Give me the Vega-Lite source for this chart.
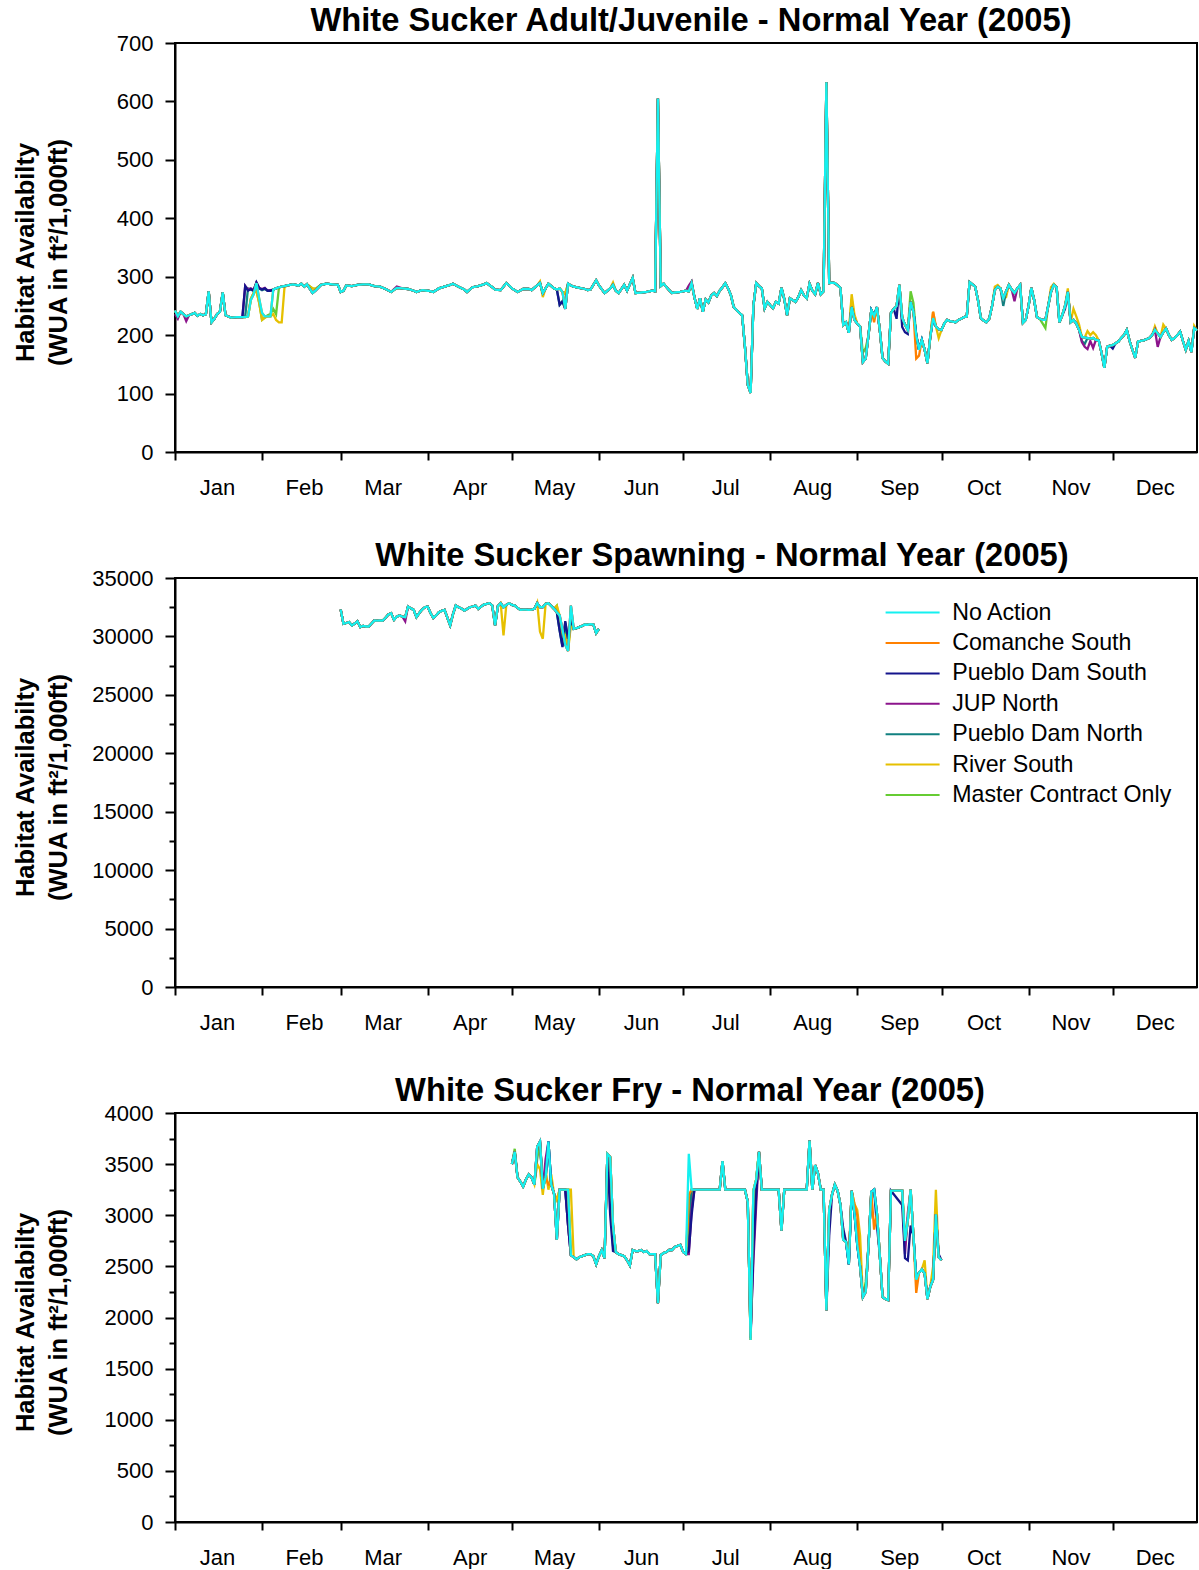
{
"$schema": "https://vega.github.io/schema/vega-lite/v6.json",
"padding": {"left": 11, "top": 4, "right": 0, "bottom": 0},
"spacing": 40,
"config": {
  "font": "Liberation Sans",
  "view": {"stroke": "black", "strokeWidth": 2},
  "axis": {"domainColor": "black", "domainWidth": 2, "tickColor": "black", "tickWidth": 2, "labelColor": "black", "labelFontSize": 22, "labelFont": "Liberation Sans", "titleColor": "black", "grid": false},
  "title": {"fontSize": 32.7, "fontWeight": "bold", "color": "black", "anchor": "middle", "frame": "group", "offset": -6, "baseline": "alphabetic"}
},
"datasets": {
"adult": [
{"t":"2005-01-01","a":242,"b":242,"c":242,"d":236,"e":242,"f":242,"g":242},
{"t":"2005-01-02","a":232,"b":232,"c":232,"d":228,"e":232,"f":232,"g":232},
{"t":"2005-01-03","a":240,"b":240,"c":240,"d":240,"e":240,"f":240,"g":240},
{"t":"2005-01-04","a":236,"b":236,"c":236,"d":236,"e":236,"f":236,"g":236},
{"t":"2005-01-05","a":232,"b":232,"c":232,"d":224,"e":232,"f":232,"g":232},
{"t":"2005-01-06","a":234,"b":234,"c":234,"d":234,"e":234,"f":234,"g":234},
{"t":"2005-01-07","a":236,"b":236,"c":236,"d":236,"e":236,"f":236,"g":236},
{"t":"2005-01-08","a":238,"b":238,"c":238,"d":238,"e":238,"f":238,"g":238},
{"t":"2005-01-09","a":233,"b":233,"c":233,"d":233,"e":233,"f":233,"g":233},
{"t":"2005-01-10","a":236,"b":236,"c":236,"d":236,"e":236,"f":236,"g":236},
{"t":"2005-01-11","a":234,"b":234,"c":234,"d":234,"e":234,"f":234,"g":234},
{"t":"2005-01-12","a":236,"b":236,"c":236,"d":236,"e":236,"f":236,"g":236},
{"t":"2005-01-13","a":275,"b":275,"c":275,"d":275,"e":275,"f":275,"g":275},
{"t":"2005-01-14","a":222,"b":222,"c":222,"d":222,"e":222,"f":222,"g":222},
{"t":"2005-01-15","a":228,"b":228,"c":228,"d":228,"e":228,"f":228,"g":228},
{"t":"2005-01-16","a":236,"b":236,"c":236,"d":236,"e":236,"f":236,"g":236},
{"t":"2005-01-17","a":240,"b":240,"c":240,"d":240,"e":240,"f":240,"g":240},
{"t":"2005-01-18","a":273,"b":273,"c":273,"d":273,"e":273,"f":273,"g":273},
{"t":"2005-01-19","a":234,"b":234,"c":234,"d":234,"e":234,"f":234,"g":234},
{"t":"2005-01-20","a":232,"b":232,"c":232,"d":232,"e":232,"f":232,"g":232},
{"t":"2005-01-21","a":230,"b":230,"c":230,"d":230,"e":230,"f":230,"g":230},
{"t":"2005-01-23","a":231,"b":231,"c":231,"d":231,"e":231,"f":231,"g":231},
{"t":"2005-01-25","a":231,"b":231,"c":231,"d":231,"e":231,"f":231,"g":231},
{"t":"2005-01-26","a":231,"b":231,"c":284,"d":284,"e":232,"f":231,"g":231},
{"t":"2005-01-27","a":232,"b":232,"c":276,"d":278,"e":280,"f":232,"g":232},
{"t":"2005-01-28","a":260,"b":260,"c":279,"d":280,"e":278,"f":262,"g":262},
{"t":"2005-01-29","a":270,"b":270,"c":276,"d":277,"e":276,"f":272,"g":272},
{"t":"2005-01-30","a":289,"b":289,"c":290,"d":290,"e":290,"f":276,"g":276},
{"t":"2005-01-31","a":262,"b":262,"c":280,"d":281,"e":280,"f":255,"g":255},
{"t":"2005-02-01","a":238,"b":238,"c":278,"d":279,"e":277,"f":226,"g":226},
{"t":"2005-02-02","a":232,"b":232,"c":280,"d":281,"e":279,"f":230,"g":230},
{"t":"2005-02-03","a":232,"b":232,"c":276,"d":276,"e":276,"f":232,"g":234},
{"t":"2005-02-04","a":232,"b":232,"c":276,"d":277,"e":276,"f":232,"g":236},
{"t":"2005-02-05","a":278,"b":278,"c":278,"d":278,"e":278,"f":236,"g":245},
{"t":"2005-02-06","a":280,"b":280,"c":280,"d":280,"e":280,"f":226,"g":236},
{"t":"2005-02-07","a":282,"b":282,"c":282,"d":282,"e":282,"f":222,"g":280},
{"t":"2005-02-08","a":283,"b":283,"c":283,"d":283,"e":283,"f":222,"g":284},
{"t":"2005-02-09","a":284,"b":284,"c":284,"d":284,"e":284,"f":282,"g":284},
{"t":"2005-02-10","a":285,"b":285,"c":285,"d":285,"e":285,"f":285,"g":285},
{"t":"2005-02-12","a":287,"b":287,"c":287,"d":287,"e":287,"f":287,"g":287},
{"t":"2005-02-14","a":285,"b":285,"c":285,"d":285,"e":285,"f":285,"g":285},
{"t":"2005-02-15","a":288,"b":288,"c":288,"d":288,"e":288,"f":288,"g":288},
{"t":"2005-02-16","a":283,"b":283,"c":283,"d":283,"e":283,"f":283,"g":283},
{"t":"2005-02-17","a":287,"b":287,"c":287,"d":287,"e":287,"f":287,"g":287},
{"t":"2005-02-19","a":272,"b":272,"c":272,"d":272,"e":272,"f":280,"g":280},
{"t":"2005-02-20","a":276,"b":276,"c":276,"d":276,"e":276,"f":279,"g":279},
{"t":"2005-02-22","a":286,"b":286,"c":286,"d":286,"e":286,"f":286,"g":286},
{"t":"2005-02-24","a":288,"b":288,"c":288,"d":288,"e":288,"f":288,"g":288},
{"t":"2005-02-26","a":287,"b":287,"c":287,"d":287,"e":287,"f":287,"g":287},
{"t":"2005-02-28","a":286,"b":286,"c":286,"d":286,"e":286,"f":286,"g":286},
{"t":"2005-03-01","a":274,"b":274,"c":274,"d":274,"e":274,"f":274,"g":274},
{"t":"2005-03-02","a":276,"b":276,"c":276,"d":276,"e":276,"f":276,"g":276},
{"t":"2005-03-03","a":285,"b":285,"c":285,"d":285,"e":285,"f":285,"g":285},
{"t":"2005-03-05","a":284,"b":284,"c":284,"d":284,"e":284,"f":284,"g":284},
{"t":"2005-03-07","a":286,"b":286,"c":286,"d":286,"e":286,"f":286,"g":286},
{"t":"2005-03-09","a":287,"b":287,"c":287,"d":287,"e":287,"f":287,"g":287},
{"t":"2005-03-11","a":287,"b":287,"c":287,"d":287,"e":287,"f":287,"g":287},
{"t":"2005-03-13","a":284,"b":284,"c":284,"d":284,"e":284,"f":284,"g":284},
{"t":"2005-03-15","a":283,"b":283,"c":283,"d":283,"e":283,"f":283,"g":283},
{"t":"2005-03-17","a":279,"b":279,"c":279,"d":279,"e":279,"f":279,"g":279},
{"t":"2005-03-19","a":274,"b":274,"c":274,"d":274,"e":274,"f":274,"g":274},
{"t":"2005-03-21","a":281,"b":281,"c":281,"d":283,"e":281,"f":281,"g":281},
{"t":"2005-03-23","a":280,"b":280,"c":280,"d":280,"e":280,"f":280,"g":280},
{"t":"2005-03-25","a":279,"b":279,"c":279,"d":279,"e":279,"f":279,"g":279},
{"t":"2005-03-27","a":276,"b":276,"c":276,"d":276,"e":276,"f":276,"g":276},
{"t":"2005-03-28","a":274,"b":274,"c":274,"d":274,"e":274,"f":274,"g":274},
{"t":"2005-03-30","a":277,"b":277,"c":277,"d":277,"e":277,"f":277,"g":277},
{"t":"2005-04-01","a":276,"b":276,"c":276,"d":276,"e":276,"f":276,"g":276},
{"t":"2005-04-03","a":274,"b":274,"c":274,"d":274,"e":274,"f":274,"g":274},
{"t":"2005-04-05","a":280,"b":280,"c":280,"d":280,"e":280,"f":280,"g":280},
{"t":"2005-04-07","a":283,"b":283,"c":283,"d":283,"e":283,"f":283,"g":283},
{"t":"2005-04-09","a":286,"b":286,"c":286,"d":286,"e":286,"f":286,"g":286},
{"t":"2005-04-10","a":288,"b":288,"c":288,"d":288,"e":288,"f":288,"g":288},
{"t":"2005-04-12","a":283,"b":283,"c":283,"d":283,"e":283,"f":283,"g":283},
{"t":"2005-04-14","a":278,"b":278,"c":278,"d":278,"e":278,"f":278,"g":278},
{"t":"2005-04-15","a":274,"b":274,"c":274,"d":274,"e":274,"f":274,"g":274},
{"t":"2005-04-17","a":282,"b":282,"c":282,"d":282,"e":282,"f":282,"g":282},
{"t":"2005-04-19","a":284,"b":284,"c":284,"d":284,"e":284,"f":284,"g":284},
{"t":"2005-04-21","a":287,"b":287,"c":287,"d":287,"e":287,"f":287,"g":287},
{"t":"2005-04-22","a":289,"b":289,"c":289,"d":289,"e":289,"f":289,"g":289},
{"t":"2005-04-24","a":282,"b":282,"c":282,"d":282,"e":282,"f":282,"g":282},
{"t":"2005-04-25","a":278,"b":278,"c":278,"d":278,"e":278,"f":278,"g":278},
{"t":"2005-04-27","a":277,"b":277,"c":277,"d":277,"e":277,"f":277,"g":277},
{"t":"2005-04-29","a":289,"b":289,"c":289,"d":289,"e":289,"f":289,"g":289},
{"t":"2005-04-30","a":285,"b":285,"c":285,"d":285,"e":285,"f":285,"g":285},
{"t":"2005-05-01","a":280,"b":280,"c":280,"d":280,"e":280,"f":280,"g":280},
{"t":"2005-05-03","a":274,"b":274,"c":274,"d":274,"e":274,"f":274,"g":274},
{"t":"2005-05-05","a":279,"b":279,"c":279,"d":279,"e":279,"f":279,"g":279},
{"t":"2005-05-07","a":279,"b":279,"c":279,"d":279,"e":279,"f":279,"g":279},
{"t":"2005-05-08","a":277,"b":277,"c":277,"d":277,"e":277,"f":277,"g":277},
{"t":"2005-05-10","a":285,"b":285,"c":285,"d":285,"e":285,"f":285,"g":285},
{"t":"2005-05-11","a":289,"b":289,"c":289,"d":289,"e":289,"f":292,"g":289},
{"t":"2005-05-12","a":272,"b":272,"c":272,"d":272,"e":272,"f":265,"g":272},
{"t":"2005-05-13","a":280,"b":280,"c":280,"d":280,"e":280,"f":280,"g":280},
{"t":"2005-05-14","a":288,"b":288,"c":288,"d":288,"e":288,"f":288,"g":288},
{"t":"2005-05-16","a":280,"b":280,"c":280,"d":280,"e":280,"f":280,"g":280},
{"t":"2005-05-17","a":278,"b":278,"c":278,"d":278,"e":278,"f":278,"g":278},
{"t":"2005-05-18","a":280,"b":280,"c":252,"d":280,"e":252,"f":280,"g":280},
{"t":"2005-05-19","a":274,"b":274,"c":258,"d":274,"e":258,"f":274,"g":274},
{"t":"2005-05-20","a":245,"b":245,"c":245,"d":245,"e":245,"f":270,"g":272},
{"t":"2005-05-21","a":288,"b":288,"c":288,"d":288,"e":288,"f":288,"g":288},
{"t":"2005-05-22","a":285,"b":285,"c":285,"d":285,"e":285,"f":285,"g":285},
{"t":"2005-05-23","a":283,"b":283,"c":283,"d":283,"e":283,"f":283,"g":283},
{"t":"2005-05-25","a":281,"b":281,"c":281,"d":281,"e":281,"f":281,"g":281},
{"t":"2005-05-27","a":279,"b":279,"c":279,"d":279,"e":279,"f":279,"g":279},
{"t":"2005-05-28","a":277,"b":277,"c":277,"d":277,"e":277,"f":277,"g":277},
{"t":"2005-05-29","a":278,"b":278,"c":278,"d":278,"e":278,"f":278,"g":278},
{"t":"2005-05-31","a":294,"b":294,"c":294,"d":294,"e":294,"f":294,"g":294},
{"t":"2005-06-01","a":285,"b":285,"c":285,"d":285,"e":285,"f":285,"g":285},
{"t":"2005-06-03","a":272,"b":272,"c":272,"d":272,"e":272,"f":272,"g":272},
{"t":"2005-06-05","a":280,"b":280,"c":280,"d":280,"e":280,"f":280,"g":280},
{"t":"2005-06-06","a":286,"b":286,"c":286,"d":286,"e":286,"f":290,"g":286},
{"t":"2005-06-07","a":276,"b":276,"c":276,"d":276,"e":276,"f":276,"g":276},
{"t":"2005-06-08","a":272,"b":272,"c":272,"d":272,"e":272,"f":272,"g":272},
{"t":"2005-06-10","a":286,"b":286,"c":286,"d":286,"e":286,"f":286,"g":286},
{"t":"2005-06-11","a":276,"b":276,"c":276,"d":276,"e":276,"f":276,"g":276},
{"t":"2005-06-13","a":298,"b":298,"c":298,"d":298,"e":298,"f":298,"g":298},
{"t":"2005-06-14","a":272,"b":272,"c":272,"d":272,"e":272,"f":272,"g":272},
{"t":"2005-06-16","a":273,"b":273,"c":273,"d":273,"e":273,"f":273,"g":273},
{"t":"2005-06-18","a":274,"b":274,"c":274,"d":274,"e":274,"f":274,"g":274},
{"t":"2005-06-20","a":276,"b":276,"c":276,"d":276,"e":276,"f":276,"g":276},
{"t":"2005-06-21","a":275,"b":275,"c":275,"d":275,"e":275,"f":275,"g":275},
{"t":"2005-06-22","a":605,"b":605,"c":605,"d":605,"e":605,"f":605,"g":605},
{"t":"2005-06-23","a":284,"b":284,"c":284,"d":284,"e":284,"f":284,"g":284},
{"t":"2005-06-24","a":288,"b":288,"c":288,"d":288,"e":288,"f":288,"g":288},
{"t":"2005-06-26","a":277,"b":277,"c":277,"d":277,"e":277,"f":277,"g":277},
{"t":"2005-06-27","a":272,"b":272,"c":272,"d":272,"e":272,"f":272,"g":272},
{"t":"2005-06-28","a":273,"b":273,"c":273,"d":273,"e":273,"f":273,"g":273},
{"t":"2005-06-30","a":274,"b":274,"c":274,"d":274,"e":274,"f":274,"g":274},
{"t":"2005-07-02","a":276,"b":276,"c":276,"d":276,"e":276,"f":276,"g":276},
{"t":"2005-07-03","a":275,"b":275,"c":275,"d":285,"e":275,"f":275,"g":275},
{"t":"2005-07-04","a":289,"b":289,"c":289,"d":292,"e":289,"f":289,"g":289},
{"t":"2005-07-05","a":265,"b":265,"c":265,"d":265,"e":265,"f":265,"g":265},
{"t":"2005-07-06","a":245,"b":245,"c":245,"d":245,"e":245,"f":245,"g":245},
{"t":"2005-07-07","a":263,"b":263,"c":263,"d":263,"e":263,"f":263,"g":263},
{"t":"2005-07-08","a":240,"b":240,"c":240,"d":240,"e":240,"f":240,"g":240},
{"t":"2005-07-09","a":261,"b":261,"c":261,"d":261,"e":261,"f":261,"g":261},
{"t":"2005-07-10","a":256,"b":256,"c":256,"d":256,"e":256,"f":256,"g":256},
{"t":"2005-07-11","a":268,"b":268,"c":268,"d":268,"e":268,"f":268,"g":268},
{"t":"2005-07-12","a":272,"b":272,"c":272,"d":272,"e":272,"f":272,"g":272},
{"t":"2005-07-13","a":267,"b":267,"c":267,"d":267,"e":267,"f":267,"g":267},
{"t":"2005-07-14","a":276,"b":276,"c":276,"d":276,"e":276,"f":276,"g":276},
{"t":"2005-07-15","a":282,"b":282,"c":282,"d":282,"e":282,"f":282,"g":282},
{"t":"2005-07-16","a":289,"b":289,"c":289,"d":289,"e":289,"f":289,"g":289},
{"t":"2005-07-17","a":280,"b":280,"c":280,"d":280,"e":280,"f":280,"g":280},
{"t":"2005-07-18","a":268,"b":268,"c":268,"d":268,"e":268,"f":268,"g":268},
{"t":"2005-07-19","a":248,"b":248,"c":248,"d":248,"e":248,"f":248,"g":248},
{"t":"2005-07-20","a":243,"b":243,"c":243,"d":243,"e":243,"f":243,"g":243},
{"t":"2005-07-21","a":238,"b":238,"c":238,"d":238,"e":238,"f":238,"g":238},
{"t":"2005-07-22","a":234,"b":234,"c":234,"d":234,"e":234,"f":234,"g":234},
{"t":"2005-07-23","a":180,"b":180,"c":180,"d":180,"e":180,"f":180,"g":180},
{"t":"2005-07-24","a":115,"b":115,"c":115,"d":115,"e":115,"f":115,"g":115},
{"t":"2005-07-25","a":101,"b":101,"c":101,"d":101,"e":101,"f":101,"g":101},
{"t":"2005-07-26","a":250,"b":250,"c":250,"d":250,"e":250,"f":250,"g":250},
{"t":"2005-07-27","a":289,"b":289,"c":289,"d":289,"e":289,"f":289,"g":289},
{"t":"2005-07-28","a":284,"b":284,"c":284,"d":284,"e":284,"f":284,"g":284},
{"t":"2005-07-29","a":280,"b":280,"c":280,"d":280,"e":280,"f":280,"g":280},
{"t":"2005-07-30","a":246,"b":246,"c":246,"d":246,"e":246,"f":246,"g":246},
{"t":"2005-07-31","a":257,"b":257,"c":257,"d":257,"e":257,"f":257,"g":257},
{"t":"2005-08-01","a":251,"b":251,"c":251,"d":251,"e":251,"f":251,"g":251},
{"t":"2005-08-02","a":246,"b":246,"c":246,"d":246,"e":246,"f":246,"g":246},
{"t":"2005-08-03","a":257,"b":257,"c":257,"d":257,"e":257,"f":257,"g":257},
{"t":"2005-08-04","a":254,"b":254,"c":254,"d":254,"e":254,"f":254,"g":254},
{"t":"2005-08-05","a":281,"b":281,"c":281,"d":281,"e":281,"f":281,"g":281},
{"t":"2005-08-06","a":262,"b":262,"c":262,"d":262,"e":262,"f":262,"g":262},
{"t":"2005-08-07","a":234,"b":234,"c":234,"d":234,"e":234,"f":234,"g":234},
{"t":"2005-08-08","a":263,"b":263,"c":263,"d":263,"e":263,"f":263,"g":263},
{"t":"2005-08-09","a":260,"b":260,"c":260,"d":260,"e":260,"f":260,"g":260},
{"t":"2005-08-10","a":257,"b":257,"c":257,"d":257,"e":257,"f":257,"g":257},
{"t":"2005-08-11","a":265,"b":265,"c":265,"d":265,"e":265,"f":265,"g":265},
{"t":"2005-08-12","a":277,"b":277,"c":277,"d":277,"e":277,"f":277,"g":277},
{"t":"2005-08-13","a":268,"b":268,"c":268,"d":268,"e":268,"f":268,"g":268},
{"t":"2005-08-14","a":263,"b":263,"c":263,"d":263,"e":263,"f":263,"g":263},
{"t":"2005-08-15","a":288,"b":288,"c":288,"d":288,"e":288,"f":288,"g":288},
{"t":"2005-08-16","a":276,"b":276,"c":276,"d":276,"e":276,"f":276,"g":276},
{"t":"2005-08-17","a":270,"b":270,"c":270,"d":270,"e":270,"f":270,"g":270},
{"t":"2005-08-18","a":289,"b":289,"c":289,"d":289,"e":289,"f":289,"g":289},
{"t":"2005-08-19","a":270,"b":270,"c":270,"d":270,"e":270,"f":270,"g":270},
{"t":"2005-08-20","a":275,"b":275,"c":275,"d":275,"e":275,"f":275,"g":275},
{"t":"2005-08-21","a":633,"b":633,"c":633,"d":633,"e":633,"f":633,"g":633},
{"t":"2005-08-22","a":289,"b":289,"c":289,"d":289,"e":289,"f":289,"g":289},
{"t":"2005-08-23","a":290,"b":290,"c":290,"d":290,"e":290,"f":290,"g":290},
{"t":"2005-08-24","a":289,"b":289,"c":289,"d":289,"e":289,"f":289,"g":289},
{"t":"2005-08-25","a":285,"b":285,"c":285,"d":285,"e":285,"f":285,"g":285},
{"t":"2005-08-26","a":281,"b":281,"c":281,"d":281,"e":281,"f":281,"g":281},
{"t":"2005-08-27","a":217,"b":217,"c":220,"d":217,"e":217,"f":217,"g":217},
{"t":"2005-08-28","a":222,"b":222,"c":222,"d":222,"e":222,"f":222,"g":222},
{"t":"2005-08-29","a":204,"b":204,"c":204,"d":204,"e":204,"f":204,"g":204},
{"t":"2005-08-30","a":248,"b":248,"c":248,"d":248,"e":248,"f":270,"g":262},
{"t":"2005-08-31","a":226,"b":226,"c":226,"d":226,"e":226,"f":235,"g":226},
{"t":"2005-09-01","a":220,"b":220,"c":220,"d":220,"e":220,"f":220,"g":220},
{"t":"2005-09-02","a":215,"b":215,"c":215,"d":215,"e":215,"f":215,"g":215},
{"t":"2005-09-03","a":154,"b":154,"c":154,"d":154,"e":154,"f":154,"g":170},
{"t":"2005-09-04","a":160,"b":160,"c":160,"d":160,"e":160,"f":160,"g":178},
{"t":"2005-09-05","a":200,"b":200,"c":200,"d":200,"e":200,"f":200,"g":200},
{"t":"2005-09-06","a":243,"b":243,"c":243,"d":243,"e":243,"f":243,"g":243},
{"t":"2005-09-07","a":233,"b":222,"c":233,"d":233,"e":233,"f":233,"g":233},
{"t":"2005-09-08","a":248,"b":248,"c":248,"d":248,"e":248,"f":248,"g":248},
{"t":"2005-09-09","a":210,"b":210,"c":210,"d":210,"e":210,"f":210,"g":210},
{"t":"2005-09-10","a":161,"b":161,"c":161,"d":161,"e":161,"f":161,"g":161},
{"t":"2005-09-11","a":155,"b":155,"c":155,"d":155,"e":155,"f":155,"g":155},
{"t":"2005-09-12","a":151,"b":151,"c":151,"d":151,"e":151,"f":151,"g":151},
{"t":"2005-09-13","a":238,"b":238,"c":238,"d":238,"e":238,"f":238,"g":238},
{"t":"2005-09-14","a":245,"b":245,"c":245,"d":245,"e":245,"f":245,"g":245},
{"t":"2005-09-15","a":250,"b":250,"c":228,"d":250,"e":250,"f":250,"g":250},
{"t":"2005-09-16","a":286,"b":286,"c":286,"d":286,"e":286,"f":286,"g":286},
{"t":"2005-09-17","a":230,"b":230,"c":214,"d":230,"e":230,"f":230,"g":230},
{"t":"2005-09-18","a":218,"b":218,"c":205,"d":218,"e":218,"f":218,"g":218},
{"t":"2005-09-19","a":209,"b":209,"c":202,"d":209,"e":209,"f":209,"g":209},
{"t":"2005-09-20","a":257,"b":257,"c":257,"d":257,"e":257,"f":257,"g":275},
{"t":"2005-09-21","a":240,"b":240,"c":240,"d":240,"e":240,"f":240,"g":255},
{"t":"2005-09-22","a":200,"b":160,"c":200,"d":200,"e":200,"f":200,"g":200},
{"t":"2005-09-23","a":175,"b":165,"c":175,"d":175,"e":175,"f":175,"g":175},
{"t":"2005-09-24","a":192,"b":192,"c":192,"d":192,"e":192,"f":192,"g":192},
{"t":"2005-09-25","a":175,"b":175,"c":175,"d":175,"e":175,"f":175,"g":175},
{"t":"2005-09-26","a":152,"b":152,"c":152,"d":152,"e":152,"f":152,"g":152},
{"t":"2005-09-27","a":197,"b":197,"c":197,"d":197,"e":197,"f":197,"g":197},
{"t":"2005-09-28","a":229,"b":240,"c":229,"d":229,"e":229,"f":240,"g":229},
{"t":"2005-09-29","a":215,"b":215,"c":215,"d":215,"e":215,"f":215,"g":215},
{"t":"2005-09-30","a":210,"b":210,"c":210,"d":210,"e":210,"f":195,"g":210},
{"t":"2005-10-01","a":209,"b":209,"c":209,"d":209,"e":209,"f":209,"g":209},
{"t":"2005-10-02","a":220,"b":220,"c":220,"d":220,"e":220,"f":220,"g":220},
{"t":"2005-10-03","a":226,"b":226,"c":226,"d":226,"e":226,"f":226,"g":226},
{"t":"2005-10-04","a":224,"b":224,"c":224,"d":224,"e":224,"f":224,"g":224},
{"t":"2005-10-05","a":223,"b":223,"c":223,"d":223,"e":223,"f":223,"g":223},
{"t":"2005-10-06","a":222,"b":222,"c":222,"d":222,"e":222,"f":222,"g":222},
{"t":"2005-10-07","a":226,"b":226,"c":226,"d":226,"e":226,"f":226,"g":226},
{"t":"2005-10-08","a":228,"b":228,"c":228,"d":228,"e":228,"f":228,"g":228},
{"t":"2005-10-09","a":231,"b":231,"c":231,"d":231,"e":231,"f":231,"g":231},
{"t":"2005-10-10","a":232,"b":232,"c":232,"d":232,"e":232,"f":232,"g":232},
{"t":"2005-10-11","a":291,"b":291,"c":291,"d":291,"e":291,"f":291,"g":291},
{"t":"2005-10-12","a":287,"b":287,"c":287,"d":287,"e":287,"f":287,"g":287},
{"t":"2005-10-13","a":283,"b":283,"c":283,"d":283,"e":283,"f":283,"g":283},
{"t":"2005-10-14","a":260,"b":260,"c":260,"d":260,"e":260,"f":260,"g":260},
{"t":"2005-10-15","a":229,"b":229,"c":229,"d":229,"e":229,"f":229,"g":229},
{"t":"2005-10-16","a":225,"b":225,"c":225,"d":225,"e":225,"f":225,"g":225},
{"t":"2005-10-17","a":222,"b":222,"c":222,"d":222,"e":222,"f":222,"g":222},
{"t":"2005-10-18","a":228,"b":228,"c":228,"d":228,"e":228,"f":228,"g":228},
{"t":"2005-10-19","a":250,"b":250,"c":250,"d":250,"e":250,"f":250,"g":250},
{"t":"2005-10-20","a":277,"b":277,"c":277,"d":277,"e":277,"f":283,"g":277},
{"t":"2005-10-21","a":283,"b":283,"c":283,"d":283,"e":283,"f":286,"g":283},
{"t":"2005-10-22","a":280,"b":280,"c":280,"d":280,"e":280,"f":280,"g":280},
{"t":"2005-10-23","a":263,"b":263,"c":263,"d":263,"e":250,"f":263,"g":263},
{"t":"2005-10-24","a":275,"b":275,"c":275,"d":275,"e":275,"f":265,"g":275},
{"t":"2005-10-25","a":286,"b":286,"c":286,"d":286,"e":286,"f":286,"g":286},
{"t":"2005-10-26","a":278,"b":278,"c":278,"d":278,"e":278,"f":278,"g":278},
{"t":"2005-10-27","a":272,"b":272,"c":272,"d":258,"e":272,"f":272,"g":272},
{"t":"2005-10-28","a":280,"b":280,"c":280,"d":280,"e":280,"f":280,"g":280},
{"t":"2005-10-29","a":286,"b":286,"c":286,"d":286,"e":286,"f":286,"g":286},
{"t":"2005-10-30","a":221,"b":221,"c":221,"d":221,"e":221,"f":221,"g":221},
{"t":"2005-10-31","a":226,"b":226,"c":226,"d":226,"e":226,"f":226,"g":226},
{"t":"2005-11-01","a":250,"b":250,"c":250,"d":250,"e":250,"f":250,"g":250},
{"t":"2005-11-02","a":281,"b":281,"c":281,"d":281,"e":281,"f":281,"g":281},
{"t":"2005-11-03","a":260,"b":260,"c":260,"d":260,"e":260,"f":260,"g":260},
{"t":"2005-11-04","a":231,"b":231,"c":231,"d":231,"e":231,"f":231,"g":231},
{"t":"2005-11-05","a":228,"b":228,"c":228,"d":228,"e":228,"f":228,"g":228},
{"t":"2005-11-06","a":226,"b":226,"c":226,"d":226,"e":226,"f":226,"g":220},
{"t":"2005-11-07","a":226,"b":226,"c":226,"d":226,"e":226,"f":226,"g":212},
{"t":"2005-11-08","a":250,"b":250,"c":250,"d":250,"e":250,"f":250,"g":250},
{"t":"2005-11-09","a":274,"b":274,"c":274,"d":274,"e":274,"f":282,"g":274},
{"t":"2005-11-10","a":286,"b":286,"c":286,"d":286,"e":286,"f":288,"g":286},
{"t":"2005-11-11","a":282,"b":282,"c":282,"d":282,"e":282,"f":282,"g":282},
{"t":"2005-11-12","a":222,"b":222,"c":222,"d":222,"e":222,"f":222,"g":222},
{"t":"2005-11-13","a":234,"b":234,"c":234,"d":234,"e":234,"f":234,"g":234},
{"t":"2005-11-14","a":250,"b":250,"c":245,"d":250,"e":250,"f":250,"g":250},
{"t":"2005-11-15","a":274,"b":274,"c":274,"d":274,"e":274,"f":280,"g":274},
{"t":"2005-11-16","a":222,"b":222,"c":222,"d":222,"e":222,"f":222,"g":222},
{"t":"2005-11-17","a":226,"b":226,"c":226,"d":226,"e":226,"f":245,"g":226},
{"t":"2005-11-18","a":220,"b":220,"c":220,"d":220,"e":220,"f":232,"g":220},
{"t":"2005-11-19","a":209,"b":209,"c":209,"d":209,"e":209,"f":218,"g":209},
{"t":"2005-11-20","a":197,"b":197,"c":197,"d":188,"e":190,"f":197,"g":197},
{"t":"2005-11-21","a":196,"b":196,"c":196,"d":180,"e":185,"f":196,"g":196},
{"t":"2005-11-22","a":195,"b":195,"c":195,"d":176,"e":195,"f":207,"g":195},
{"t":"2005-11-23","a":194,"b":194,"c":194,"d":190,"e":194,"f":200,"g":194},
{"t":"2005-11-24","a":195,"b":195,"c":195,"d":178,"e":195,"f":205,"g":195},
{"t":"2005-11-25","a":192,"b":192,"c":192,"d":192,"e":192,"f":200,"g":192},
{"t":"2005-11-26","a":191,"b":191,"c":191,"d":191,"e":191,"f":191,"g":191},
{"t":"2005-11-27","a":170,"b":170,"c":170,"d":170,"e":170,"f":170,"g":170},
{"t":"2005-11-28","a":144,"b":144,"c":144,"d":144,"e":144,"f":144,"g":144},
{"t":"2005-11-29","a":180,"b":180,"c":180,"d":180,"e":180,"f":180,"g":180},
{"t":"2005-11-30","a":182,"b":182,"c":182,"d":182,"e":182,"f":182,"g":182},
{"t":"2005-12-01","a":183,"b":183,"c":177,"d":183,"e":183,"f":183,"g":183},
{"t":"2005-12-02","a":186,"b":186,"c":186,"d":186,"e":186,"f":186,"g":186},
{"t":"2005-12-03","a":189,"b":189,"c":189,"d":189,"e":189,"f":189,"g":189},
{"t":"2005-12-04","a":195,"b":195,"c":195,"d":195,"e":195,"f":195,"g":195},
{"t":"2005-12-05","a":200,"b":200,"c":200,"d":200,"e":200,"f":200,"g":200},
{"t":"2005-12-06","a":209,"b":209,"c":209,"d":209,"e":209,"f":209,"g":209},
{"t":"2005-12-07","a":190,"b":190,"c":190,"d":190,"e":190,"f":190,"g":190},
{"t":"2005-12-08","a":175,"b":175,"c":175,"d":175,"e":175,"f":175,"g":175},
{"t":"2005-12-09","a":161,"b":161,"c":161,"d":161,"e":161,"f":161,"g":161},
{"t":"2005-12-10","a":189,"b":189,"c":189,"d":189,"e":189,"f":189,"g":189},
{"t":"2005-12-11","a":190,"b":190,"c":190,"d":190,"e":190,"f":190,"g":190},
{"t":"2005-12-12","a":191,"b":191,"c":191,"d":191,"e":191,"f":191,"g":191},
{"t":"2005-12-13","a":193,"b":193,"c":193,"d":193,"e":193,"f":193,"g":193},
{"t":"2005-12-14","a":195,"b":195,"c":195,"d":195,"e":195,"f":195,"g":195},
{"t":"2005-12-15","a":200,"b":200,"c":200,"d":200,"e":200,"f":200,"g":200},
{"t":"2005-12-16","a":209,"b":209,"c":209,"d":209,"e":209,"f":215,"g":209},
{"t":"2005-12-17","a":203,"b":203,"c":203,"d":180,"e":203,"f":203,"g":203},
{"t":"2005-12-18","a":197,"b":197,"c":197,"d":197,"e":197,"f":197,"g":197},
{"t":"2005-12-19","a":205,"b":205,"c":205,"d":205,"e":205,"f":218,"g":205},
{"t":"2005-12-20","a":211,"b":211,"c":211,"d":211,"e":211,"f":211,"g":211},
{"t":"2005-12-21","a":200,"b":200,"c":200,"d":200,"e":200,"f":200,"g":200},
{"t":"2005-12-22","a":192,"b":192,"c":192,"d":192,"e":192,"f":192,"g":192},
{"t":"2005-12-23","a":195,"b":195,"c":195,"d":195,"e":195,"f":195,"g":195},
{"t":"2005-12-24","a":200,"b":200,"c":200,"d":200,"e":200,"f":200,"g":200},
{"t":"2005-12-25","a":206,"b":206,"c":206,"d":206,"e":206,"f":206,"g":206},
{"t":"2005-12-26","a":190,"b":190,"c":190,"d":190,"e":190,"f":190,"g":190},
{"t":"2005-12-27","a":175,"b":175,"c":175,"d":175,"e":175,"f":175,"g":175},
{"t":"2005-12-28","a":190,"b":190,"c":190,"d":190,"e":190,"f":190,"g":190},
{"t":"2005-12-29","a":171,"b":171,"c":171,"d":171,"e":171,"f":171,"g":171},
{"t":"2005-12-30","a":212,"b":212,"c":212,"d":212,"e":212,"f":216,"g":212},
{"t":"2005-12-31","a":208,"b":208,"c":208,"d":208,"e":208,"f":208,"g":208}
],
"spawn": [
{"t":"2005-03-01","a":32300,"b":32300,"c":32300,"d":32300,"e":32300,"f":32300,"g":32300},
{"t":"2005-03-02","a":31080,"b":31080,"c":31080,"d":31080,"e":31080,"f":31080,"g":31080},
{"t":"2005-03-03","a":31150,"b":31150,"c":31150,"d":31150,"e":31150,"f":31150,"g":31150},
{"t":"2005-03-04","a":31220,"b":31220,"c":31220,"d":31220,"e":31220,"f":31220,"g":31220},
{"t":"2005-03-05","a":30940,"b":30940,"c":30940,"d":30940,"e":30940,"f":30940,"g":30940},
{"t":"2005-03-06","a":31100,"b":31100,"c":31100,"d":31100,"e":31100,"f":31100,"g":31100},
{"t":"2005-03-07","a":31300,"b":31300,"c":31300,"d":31300,"e":31300,"f":31300,"g":31300},
{"t":"2005-03-08","a":30800,"b":30800,"c":30800,"d":30800,"e":30800,"f":30800,"g":30800},
{"t":"2005-03-09","a":30900,"b":30900,"c":30900,"d":30900,"e":30900,"f":30900,"g":30900},
{"t":"2005-03-10","a":30850,"b":30850,"c":30850,"d":30850,"e":30850,"f":30850,"g":30850},
{"t":"2005-03-11","a":30850,"b":30850,"c":30850,"d":30850,"e":30850,"f":30850,"g":30850},
{"t":"2005-03-12","a":31100,"b":31100,"c":31100,"d":31100,"e":31100,"f":31100,"g":31100},
{"t":"2005-03-13","a":31360,"b":31360,"c":31360,"d":31360,"e":31360,"f":31360,"g":31360},
{"t":"2005-03-14","a":31350,"b":31350,"c":31350,"d":31350,"e":31350,"f":31350,"g":31350},
{"t":"2005-03-15","a":31380,"b":31380,"c":31380,"d":31380,"e":31380,"f":31380,"g":31380},
{"t":"2005-03-16","a":31360,"b":31360,"c":31360,"d":31360,"e":31360,"f":31360,"g":31360},
{"t":"2005-03-17","a":31600,"b":31600,"c":31600,"d":31600,"e":31600,"f":31600,"g":31600},
{"t":"2005-03-18","a":31880,"b":31880,"c":31880,"d":31880,"e":31880,"f":31880,"g":31880},
{"t":"2005-03-19","a":31990,"b":31990,"c":31990,"d":31990,"e":31990,"f":31990,"g":31990},
{"t":"2005-03-20","a":31420,"b":31420,"c":31420,"d":31420,"e":31420,"f":31420,"g":31420},
{"t":"2005-03-21","a":31700,"b":31700,"c":31700,"d":31700,"e":31700,"f":31700,"g":31700},
{"t":"2005-03-22","a":31790,"b":31790,"c":31790,"d":31790,"e":31790,"f":31790,"g":31790},
{"t":"2005-03-23","a":31700,"b":31700,"c":31700,"d":31700,"e":31700,"f":31700,"g":31700},
{"t":"2005-03-24","a":31650,"b":31650,"c":31650,"d":31300,"e":31650,"f":31650,"g":31650},
{"t":"2005-03-25","a":32560,"b":32560,"c":32560,"d":32560,"e":32560,"f":32560,"g":32560},
{"t":"2005-03-26","a":32400,"b":32400,"c":32400,"d":32400,"e":32400,"f":32400,"g":32400},
{"t":"2005-03-27","a":32270,"b":32270,"c":32270,"d":32270,"e":32270,"f":32270,"g":32270},
{"t":"2005-03-28","a":31650,"b":31650,"c":31650,"d":31650,"e":31650,"f":31650,"g":31650},
{"t":"2005-03-29","a":32000,"b":32000,"c":32000,"d":32000,"e":32000,"f":32000,"g":32000},
{"t":"2005-03-30","a":32300,"b":32300,"c":32300,"d":32300,"e":32300,"f":32300,"g":32300},
{"t":"2005-03-31","a":32500,"b":32500,"c":32500,"d":32500,"e":32500,"f":32500,"g":32500},
{"t":"2005-04-01","a":32560,"b":32560,"c":32560,"d":32560,"e":32560,"f":32560,"g":32560},
{"t":"2005-04-02","a":32000,"b":32000,"c":32000,"d":32000,"e":32000,"f":32000,"g":32000},
{"t":"2005-04-03","a":31590,"b":31590,"c":31590,"d":31590,"e":31590,"f":31590,"g":31590},
{"t":"2005-04-04","a":31800,"b":31800,"c":31800,"d":31800,"e":31800,"f":31800,"g":31800},
{"t":"2005-04-05","a":32070,"b":32070,"c":32070,"d":32070,"e":32070,"f":32070,"g":32070},
{"t":"2005-04-06","a":32200,"b":32200,"c":32200,"d":32200,"e":32200,"f":32200,"g":32200},
{"t":"2005-04-07","a":32270,"b":32270,"c":32270,"d":32270,"e":32270,"f":32270,"g":32270},
{"t":"2005-04-08","a":31600,"b":31600,"c":31600,"d":31600,"e":31600,"f":31600,"g":31600},
{"t":"2005-04-09","a":30940,"b":30940,"c":30940,"d":30940,"e":30940,"f":30940,"g":30940},
{"t":"2005-04-10","a":31900,"b":31900,"c":31900,"d":31900,"e":31900,"f":31900,"g":31900},
{"t":"2005-04-11","a":32640,"b":32640,"c":32640,"d":32640,"e":32640,"f":32640,"g":32640},
{"t":"2005-04-12","a":32500,"b":32500,"c":32500,"d":32500,"e":32500,"f":32500,"g":32500},
{"t":"2005-04-13","a":32400,"b":32400,"c":32400,"d":32400,"e":32400,"f":32400,"g":32400},
{"t":"2005-04-14","a":32210,"b":32210,"c":32210,"d":32210,"e":32210,"f":32210,"g":32210},
{"t":"2005-04-15","a":32350,"b":32350,"c":32350,"d":32350,"e":32350,"f":32350,"g":32350},
{"t":"2005-04-16","a":32500,"b":32500,"c":32500,"d":32500,"e":32500,"f":32500,"g":32500},
{"t":"2005-04-17","a":32560,"b":32560,"c":32560,"d":32560,"e":32560,"f":32560,"g":32560},
{"t":"2005-04-18","a":32640,"b":32640,"c":32640,"d":32640,"e":32640,"f":32640,"g":32640},
{"t":"2005-04-19","a":32360,"b":32360,"c":32360,"d":32360,"e":32360,"f":32360,"g":32360},
{"t":"2005-04-20","a":32550,"b":32550,"c":32550,"d":32550,"e":32550,"f":32550,"g":32550},
{"t":"2005-04-21","a":32730,"b":32730,"c":32730,"d":32730,"e":32730,"f":32730,"g":32730},
{"t":"2005-04-22","a":32780,"b":32780,"c":32780,"d":32780,"e":32780,"f":32780,"g":32780},
{"t":"2005-04-23","a":32840,"b":32840,"c":32840,"d":32840,"e":32840,"f":32840,"g":32840},
{"t":"2005-04-24","a":32640,"b":32640,"c":32640,"d":32640,"e":32640,"f":32640,"g":32640},
{"t":"2005-04-25","a":30940,"b":30940,"c":30940,"d":30940,"e":30940,"f":30940,"g":30940},
{"t":"2005-04-26","a":32600,"b":32600,"c":32600,"d":32600,"e":32600,"f":32600,"g":32600},
{"t":"2005-04-27","a":32840,"b":32840,"c":32840,"d":32840,"e":32840,"f":32840,"g":32840},
{"t":"2005-04-28","a":32500,"b":32500,"c":32500,"d":32500,"e":32500,"f":30090,"g":32500},
{"t":"2005-04-29","a":32700,"b":32700,"c":32700,"d":32700,"e":32700,"f":32700,"g":32700},
{"t":"2005-04-30","a":32840,"b":32840,"c":32840,"d":32840,"e":32840,"f":32840,"g":32840},
{"t":"2005-05-01","a":32700,"b":32700,"c":32700,"d":32700,"e":32700,"f":32700,"g":32700},
{"t":"2005-05-02","a":32640,"b":32640,"c":32640,"d":32640,"e":32640,"f":32640,"g":32640},
{"t":"2005-05-03","a":32450,"b":32450,"c":32450,"d":32450,"e":32450,"f":32450,"g":32450},
{"t":"2005-05-04","a":32270,"b":32270,"c":32270,"d":32270,"e":32270,"f":32270,"g":32270},
{"t":"2005-05-05","a":32300,"b":32300,"c":32300,"d":32300,"e":32300,"f":32300,"g":32300},
{"t":"2005-05-06","a":32300,"b":32300,"c":32300,"d":32300,"e":32300,"f":32300,"g":32300},
{"t":"2005-05-07","a":32270,"b":32270,"c":32270,"d":32270,"e":32270,"f":32270,"g":32270},
{"t":"2005-05-08","a":32300,"b":32300,"c":32300,"d":32300,"e":32300,"f":32300,"g":32300},
{"t":"2005-05-09","a":32360,"b":32360,"c":32360,"d":32360,"e":32360,"f":32360,"g":32360},
{"t":"2005-05-10","a":32840,"b":32840,"c":32840,"d":32840,"e":32840,"f":32900,"g":32840},
{"t":"2005-05-11","a":32500,"b":32500,"c":32500,"d":32500,"e":32500,"f":30400,"g":32500},
{"t":"2005-05-12","a":32500,"b":32500,"c":32500,"d":32500,"e":32500,"f":29800,"g":32500},
{"t":"2005-05-13","a":32800,"b":32800,"c":32800,"d":32800,"e":32800,"f":32800,"g":32800},
{"t":"2005-05-14","a":32840,"b":32840,"c":32840,"d":32840,"e":32840,"f":32840,"g":32840},
{"t":"2005-05-15","a":32600,"b":32600,"c":32600,"d":32600,"e":32600,"f":32600,"g":32600},
{"t":"2005-05-16","a":32360,"b":32360,"c":32360,"d":32360,"e":32360,"f":32360,"g":32360},
{"t":"2005-05-17","a":32070,"b":32070,"c":32070,"d":32070,"e":32070,"f":32600,"g":32640},
{"t":"2005-05-18","a":31800,"b":31800,"c":30500,"d":31800,"e":30500,"f":31800,"g":31000},
{"t":"2005-05-19","a":30600,"b":30600,"c":29090,"d":30600,"e":29150,"f":29500,"g":29600},
{"t":"2005-05-20","a":29300,"b":29300,"c":31300,"d":29300,"e":31200,"f":30200,"g":30400},
{"t":"2005-05-21","a":28750,"b":28750,"c":29800,"d":28750,"e":29800,"f":28750,"g":29000},
{"t":"2005-05-22","a":32640,"b":32640,"c":31600,"d":32640,"e":31600,"f":31000,"g":31200},
{"t":"2005-05-23","a":30650,"b":30650,"c":30650,"d":30650,"e":30650,"f":30650,"g":30650},
{"t":"2005-05-24","a":30700,"b":30700,"c":30700,"d":30700,"e":30700,"f":30700,"g":30700},
{"t":"2005-05-25","a":30800,"b":30800,"c":30800,"d":30800,"e":30800,"f":30800,"g":30800},
{"t":"2005-05-26","a":30900,"b":30900,"c":30900,"d":30900,"e":30900,"f":30900,"g":30900},
{"t":"2005-05-27","a":31020,"b":31020,"c":31020,"d":31020,"e":31020,"f":31020,"g":31020},
{"t":"2005-05-28","a":31000,"b":31000,"c":31000,"d":31000,"e":31000,"f":31000,"g":31000},
{"t":"2005-05-29","a":31050,"b":31050,"c":31050,"d":31050,"e":31050,"f":31050,"g":31050},
{"t":"2005-05-30","a":31020,"b":31020,"c":31020,"d":31020,"e":31020,"f":31020,"g":31020},
{"t":"2005-05-31","a":30290,"b":30290,"c":30290,"d":30290,"e":30290,"f":30290,"g":30290},
{"t":"2005-06-01","a":30650,"b":30650,"c":30650,"d":30650,"e":30650,"f":30650,"g":30650}
],
"fry": [
{"t":"2005-05-01","a":3500,"b":3500,"c":3500,"d":3500,"e":3500,"f":3500,"g":3500},
{"t":"2005-05-02","a":3620,"b":3620,"c":3620,"d":3620,"e":3620,"f":3620,"g":3650},
{"t":"2005-05-03","a":3370,"b":3370,"c":3370,"d":3370,"e":3370,"f":3370,"g":3370},
{"t":"2005-05-04","a":3330,"b":3330,"c":3330,"d":3330,"e":3330,"f":3330,"g":3330},
{"t":"2005-05-05","a":3280,"b":3280,"c":3280,"d":3280,"e":3280,"f":3280,"g":3280},
{"t":"2005-05-06","a":3350,"b":3350,"c":3350,"d":3350,"e":3350,"f":3350,"g":3350},
{"t":"2005-05-07","a":3400,"b":3400,"c":3400,"d":3400,"e":3400,"f":3400,"g":3400},
{"t":"2005-05-08","a":3370,"b":3370,"c":3370,"d":3370,"e":3370,"f":3370,"g":3370},
{"t":"2005-05-09","a":3300,"b":3300,"c":3300,"d":3300,"e":3300,"f":3300,"g":3300},
{"t":"2005-05-10","a":3670,"b":3670,"c":3670,"d":3670,"e":3670,"f":3500,"g":3550},
{"t":"2005-05-11","a":3720,"b":3720,"c":3720,"d":3720,"e":3720,"f":3450,"g":3720},
{"t":"2005-05-12","a":3260,"b":3260,"c":3300,"d":3260,"e":3260,"f":3200,"g":3260},
{"t":"2005-05-13","a":3370,"b":3370,"c":3370,"d":3550,"e":3370,"f":3450,"g":3370},
{"t":"2005-05-14","a":3720,"b":3300,"c":3720,"d":3720,"e":3720,"f":3250,"g":3720},
{"t":"2005-05-15","a":3300,"b":3300,"c":3300,"d":3300,"e":3300,"f":3400,"g":3300},
{"t":"2005-05-16","a":3210,"b":3210,"c":3210,"d":3210,"e":3210,"f":3210,"g":3210},
{"t":"2005-05-17","a":2760,"b":2760,"c":2760,"d":2760,"e":2760,"f":3150,"g":3150},
{"t":"2005-05-18","a":3250,"b":3250,"c":3250,"d":3250,"e":3250,"f":3250,"g":3250},
{"t":"2005-05-19","a":3250,"b":3250,"c":3250,"d":3250,"e":3250,"f":3250,"g":3250},
{"t":"2005-05-20","a":3250,"b":3250,"c":3250,"d":3250,"e":3250,"f":3250,"g":3250},
{"t":"2005-05-21","a":3250,"b":3250,"c":2900,"d":2900,"e":2900,"f":3250,"g":3250},
{"t":"2005-05-22","a":2610,"b":2610,"c":2610,"d":2610,"e":2610,"f":3250,"g":2610},
{"t":"2005-05-23","a":2590,"b":2590,"c":2590,"d":2590,"e":2590,"f":2590,"g":2590},
{"t":"2005-05-24","a":2570,"b":2570,"c":2570,"d":2570,"e":2570,"f":2570,"g":2570},
{"t":"2005-05-25","a":2590,"b":2590,"c":2590,"d":2590,"e":2590,"f":2590,"g":2590},
{"t":"2005-05-26","a":2600,"b":2600,"c":2600,"d":2600,"e":2600,"f":2600,"g":2600},
{"t":"2005-05-27","a":2610,"b":2610,"c":2610,"d":2610,"e":2610,"f":2610,"g":2610},
{"t":"2005-05-28","a":2620,"b":2620,"c":2620,"d":2620,"e":2620,"f":2620,"g":2620},
{"t":"2005-05-29","a":2620,"b":2620,"c":2620,"d":2620,"e":2620,"f":2620,"g":2620},
{"t":"2005-05-30","a":2600,"b":2600,"c":2600,"d":2600,"e":2600,"f":2600,"g":2600},
{"t":"2005-05-31","a":2520,"b":2520,"c":2520,"d":2520,"e":2520,"f":2520,"g":2520},
{"t":"2005-06-01","a":2600,"b":2600,"c":2600,"d":2600,"e":2600,"f":2600,"g":2600},
{"t":"2005-06-02","a":2660,"b":2660,"c":2660,"d":2660,"e":2660,"f":2660,"g":2660},
{"t":"2005-06-03","a":2580,"b":2580,"c":2580,"d":2580,"e":2580,"f":2580,"g":2580},
{"t":"2005-06-04","a":3600,"b":3600,"c":3600,"d":3600,"e":3600,"f":3600,"g":3600},
{"t":"2005-06-05","a":3570,"b":3570,"c":3000,"d":3570,"e":3300,"f":3570,"g":3570},
{"t":"2005-06-06","a":2900,"b":2900,"c":2650,"d":2900,"e":2700,"f":2900,"g":2900},
{"t":"2005-06-07","a":2640,"b":2640,"c":2640,"d":2640,"e":2640,"f":2640,"g":2640},
{"t":"2005-06-08","a":2620,"b":2620,"c":2620,"d":2620,"e":2620,"f":2620,"g":2620},
{"t":"2005-06-09","a":2610,"b":2610,"c":2610,"d":2610,"e":2610,"f":2610,"g":2610},
{"t":"2005-06-10","a":2600,"b":2600,"c":2600,"d":2600,"e":2600,"f":2600,"g":2600},
{"t":"2005-06-11","a":2560,"b":2560,"c":2560,"d":2560,"e":2560,"f":2560,"g":2560},
{"t":"2005-06-12","a":2510,"b":2510,"c":2510,"d":2510,"e":2510,"f":2510,"g":2510},
{"t":"2005-06-13","a":2660,"b":2660,"c":2660,"d":2660,"e":2660,"f":2660,"g":2660},
{"t":"2005-06-14","a":2650,"b":2650,"c":2650,"d":2650,"e":2650,"f":2650,"g":2650},
{"t":"2005-06-15","a":2650,"b":2650,"c":2650,"d":2650,"e":2650,"f":2650,"g":2650},
{"t":"2005-06-16","a":2660,"b":2660,"c":2660,"d":2660,"e":2660,"f":2660,"g":2660},
{"t":"2005-06-17","a":2640,"b":2640,"c":2640,"d":2640,"e":2640,"f":2640,"g":2640},
{"t":"2005-06-18","a":2650,"b":2650,"c":2650,"d":2650,"e":2650,"f":2650,"g":2650},
{"t":"2005-06-19","a":2620,"b":2620,"c":2620,"d":2620,"e":2620,"f":2620,"g":2620},
{"t":"2005-06-20","a":2620,"b":2620,"c":2620,"d":2620,"e":2620,"f":2620,"g":2620},
{"t":"2005-06-21","a":2620,"b":2620,"c":2620,"d":2620,"e":2620,"f":2620,"g":2620},
{"t":"2005-06-22","a":2140,"b":2140,"c":2140,"d":2140,"e":2140,"f":2140,"g":2140},
{"t":"2005-06-23","a":2610,"b":2610,"c":2610,"d":2610,"e":2610,"f":2610,"g":2610},
{"t":"2005-06-24","a":2630,"b":2630,"c":2630,"d":2630,"e":2630,"f":2630,"g":2630},
{"t":"2005-06-25","a":2640,"b":2640,"c":2640,"d":2640,"e":2640,"f":2640,"g":2640},
{"t":"2005-06-26","a":2660,"b":2660,"c":2660,"d":2660,"e":2660,"f":2660,"g":2660},
{"t":"2005-06-27","a":2660,"b":2660,"c":2660,"d":2660,"e":2660,"f":2660,"g":2660},
{"t":"2005-06-28","a":2690,"b":2690,"c":2690,"d":2690,"e":2690,"f":2690,"g":2690},
{"t":"2005-06-29","a":2700,"b":2700,"c":2700,"d":2700,"e":2700,"f":2700,"g":2700},
{"t":"2005-06-30","a":2710,"b":2710,"c":2710,"d":2710,"e":2710,"f":2710,"g":2710},
{"t":"2005-07-01","a":2640,"b":2640,"c":2640,"d":2640,"e":2640,"f":2640,"g":2640},
{"t":"2005-07-02","a":2620,"b":2620,"c":2620,"d":2620,"e":2620,"f":2620,"g":2620},
{"t":"2005-07-03","a":3600,"b":3200,"c":2650,"d":2620,"e":2700,"f":2900,"g":3100},
{"t":"2005-07-04","a":3250,"b":3250,"c":3000,"d":3050,"e":3250,"f":3200,"g":3250},
{"t":"2005-07-05","a":3250,"b":3250,"c":3250,"d":3250,"e":3250,"f":3250,"g":3250},
{"t":"2005-07-10","a":3250,"b":3250,"c":3250,"d":3250,"e":3250,"f":3250,"g":3250},
{"t":"2005-07-14","a":3250,"b":3250,"c":3250,"d":3250,"e":3250,"f":3250,"g":3250},
{"t":"2005-07-15","a":3530,"b":3530,"c":3530,"d":3530,"e":3530,"f":3530,"g":3530},
{"t":"2005-07-16","a":3250,"b":3250,"c":3250,"d":3250,"e":3250,"f":3250,"g":3250},
{"t":"2005-07-20","a":3250,"b":3250,"c":3250,"d":3250,"e":3250,"f":3250,"g":3250},
{"t":"2005-07-23","a":3250,"b":3250,"c":3250,"d":3250,"e":3250,"f":3250,"g":3250},
{"t":"2005-07-24","a":3130,"b":3130,"c":3130,"d":3130,"e":3130,"f":3130,"g":3130},
{"t":"2005-07-25","a":1780,"b":1780,"c":1800,"d":1850,"e":1800,"f":1780,"g":1780},
{"t":"2005-07-26","a":3240,"b":3240,"c":2650,"d":2550,"e":2800,"f":3240,"g":3240},
{"t":"2005-07-27","a":3350,"b":3350,"c":3200,"d":3100,"e":3350,"f":3350,"g":3350},
{"t":"2005-07-28","a":3620,"b":3620,"c":3620,"d":3620,"e":3620,"f":3620,"g":3620},
{"t":"2005-07-29","a":3250,"b":3250,"c":3250,"d":3250,"e":3250,"f":3250,"g":3250},
{"t":"2005-08-04","a":3250,"b":3250,"c":3250,"d":3250,"e":3250,"f":3250,"g":3250},
{"t":"2005-08-05","a":2850,"b":2850,"c":2850,"d":2850,"e":2850,"f":2850,"g":2850},
{"t":"2005-08-06","a":3250,"b":3250,"c":3250,"d":3250,"e":3250,"f":3250,"g":3250},
{"t":"2005-08-14","a":3250,"b":3250,"c":3250,"d":3250,"e":3250,"f":3250,"g":3250},
{"t":"2005-08-15","a":3730,"b":3730,"c":3730,"d":3730,"e":3730,"f":3730,"g":3730},
{"t":"2005-08-16","a":3250,"b":3250,"c":3250,"d":3250,"e":3250,"f":3250,"g":3250},
{"t":"2005-08-17","a":3490,"b":3490,"c":3490,"d":3490,"e":3490,"f":3490,"g":3490},
{"t":"2005-08-18","a":3410,"b":3410,"c":3410,"d":3410,"e":3410,"f":3410,"g":3410},
{"t":"2005-08-19","a":3250,"b":3250,"c":3250,"d":3250,"e":3250,"f":3250,"g":3250},
{"t":"2005-08-20","a":3250,"b":3250,"c":3250,"d":3250,"e":3250,"f":3250,"g":3250},
{"t":"2005-08-21","a":2070,"b":2070,"c":2070,"d":2070,"e":2070,"f":2070,"g":2070},
{"t":"2005-08-22","a":3050,"b":3050,"c":2800,"d":3050,"e":3050,"f":3050,"g":3050},
{"t":"2005-08-23","a":3200,"b":3200,"c":3200,"d":3200,"e":3200,"f":3200,"g":3200},
{"t":"2005-08-24","a":3300,"b":3300,"c":3300,"d":3300,"e":3300,"f":3300,"g":3300},
{"t":"2005-08-25","a":3240,"b":3240,"c":3240,"d":3240,"e":3240,"f":3240,"g":3240},
{"t":"2005-08-26","a":3100,"b":3100,"c":3100,"d":3100,"e":3100,"f":3100,"g":3100},
{"t":"2005-08-27","a":2760,"b":2760,"c":2870,"d":2760,"e":2760,"f":2760,"g":2760},
{"t":"2005-08-28","a":2740,"b":2740,"c":2740,"d":2740,"e":2740,"f":2740,"g":2740},
{"t":"2005-08-29","a":2520,"b":2600,"c":2520,"d":2520,"e":2520,"f":2520,"g":2520},
{"t":"2005-08-30","a":3240,"b":3240,"c":3240,"d":3240,"e":3240,"f":3240,"g":3240},
{"t":"2005-08-31","a":3020,"b":3110,"c":3020,"d":3020,"e":3020,"f":3110,"g":3020},
{"t":"2005-09-01","a":2710,"b":3000,"c":2710,"d":2710,"e":2710,"f":3050,"g":2710},
{"t":"2005-09-02","a":2500,"b":2500,"c":2500,"d":2500,"e":2500,"f":2800,"g":2500},
{"t":"2005-09-03","a":2200,"b":2200,"c":2200,"d":2200,"e":2200,"f":2200,"g":2200},
{"t":"2005-09-04","a":2250,"b":2250,"c":2250,"d":2250,"e":2250,"f":2250,"g":2350},
{"t":"2005-09-05","a":2700,"b":2700,"c":2700,"d":2700,"e":2700,"f":2700,"g":2700},
{"t":"2005-09-06","a":3230,"b":3230,"c":3230,"d":3230,"e":3230,"f":3230,"g":3230},
{"t":"2005-09-07","a":3250,"b":2860,"c":3250,"d":3250,"e":3250,"f":3250,"g":3250},
{"t":"2005-09-08","a":3020,"b":3020,"c":2900,"d":3020,"e":3020,"f":3020,"g":3020},
{"t":"2005-09-09","a":2620,"b":2620,"c":2620,"d":2620,"e":2620,"f":2620,"g":2620},
{"t":"2005-09-10","a":2200,"b":2200,"c":2200,"d":2200,"e":2200,"f":2200,"g":2200},
{"t":"2005-09-11","a":2180,"b":2180,"c":2180,"d":2180,"e":2180,"f":2180,"g":2180},
{"t":"2005-09-12","a":2170,"b":2170,"c":2170,"d":2170,"e":2170,"f":2170,"g":2170},
{"t":"2005-09-13","a":3240,"b":3240,"c":3240,"d":3240,"e":3240,"f":3240,"g":3240},
{"t":"2005-09-17","a":3240,"b":3240,"c":3100,"d":3240,"e":3240,"f":3240,"g":3240},
{"t":"2005-09-18","a":2750,"b":2750,"c":2580,"d":2620,"e":2700,"f":2750,"g":2750},
{"t":"2005-09-19","a":2950,"b":2950,"c":2560,"d":3020,"e":2950,"f":2950,"g":2950},
{"t":"2005-09-20","a":3250,"b":3250,"c":2900,"d":3250,"e":3250,"f":3250,"g":3250},
{"t":"2005-09-21","a":2800,"b":2800,"c":2800,"d":2800,"e":2800,"f":2800,"g":2800},
{"t":"2005-09-22","a":2370,"b":2240,"c":2370,"d":2370,"e":2370,"f":2370,"g":2370},
{"t":"2005-09-23","a":2440,"b":2440,"c":2440,"d":2440,"e":2440,"f":2440,"g":2440},
{"t":"2005-09-24","a":2470,"b":2470,"c":2470,"d":2470,"e":2470,"f":2470,"g":2470},
{"t":"2005-09-25","a":2430,"b":2430,"c":2430,"d":2430,"e":2430,"f":2560,"g":2430},
{"t":"2005-09-26","a":2180,"b":2180,"c":2180,"d":2180,"e":2180,"f":2180,"g":2180},
{"t":"2005-09-27","a":2300,"b":2300,"c":2300,"d":2300,"e":2300,"f":2300,"g":2300},
{"t":"2005-09-28","a":2370,"b":2370,"c":2370,"d":2370,"e":2370,"f":2500,"g":2370},
{"t":"2005-09-29","a":3010,"b":3010,"c":3010,"d":3010,"e":3010,"f":3250,"g":2960},
{"t":"2005-09-30","a":2590,"b":2590,"c":2620,"d":2590,"e":2590,"f":2590,"g":2590},
{"t":"2005-10-01","a":2560,"b":2560,"c":2560,"d":2560,"e":2560,"f":2560,"g":2560}
]
},
"resolve": {"legend": {"color": "independent"}},
"vconcat": [
{
  "width": 1022, "height": 409,
  "title": {"text": "White Sucker Adult/Juvenile - Normal Year (2005)", "dx": 5},
  "data": {"name": "adult", "format": {"parse": {"t": "date:'%Y-%m-%d'"}}},
  "transform": [{"fold": ["g","f","e","d","c","b","a"], "as": ["s","v"]}],
  "mark": {"type": "line", "strokeWidth": 2.3},
  "encoding": {
    "x": {"field": "t", "type": "temporal", "scale": {"domain": [{"year":2005,"month":1,"date":1},{"year":2005,"month":12,"date":31}]},
      "axis": {"title": null, "values": [{"year":2005,"month":1,"date":1},{"year":2005,"month":2,"date":1},{"year":2005,"month":3,"date":1},{"year":2005,"month":4,"date":1},{"year":2005,"month":5,"date":1},{"year":2005,"month":6,"date":1},{"year":2005,"month":7,"date":1},{"year":2005,"month":8,"date":1},{"year":2005,"month":9,"date":1},{"year":2005,"month":10,"date":1},{"year":2005,"month":11,"date":1},{"year":2005,"month":12,"date":1}],
        "labelExpr": "timeFormat(datum.value, '%b')", "labelOffset": 42, "tickSize": 8, "labelPadding": 17, "labelFlush": false, "labelOverlap": false, "labelBound": false}},
    "y": {"field": "v", "type": "quantitative", "scale": {"domain": [0, 700], "nice": false},
      "axis": {"values": [0,100,200,300,400,500,600,700], "tickSize": 10, "labelPadding": 12,
        "title": ["Habitat Availabilty", "(WUA in ft²/1,000ft)"], "titleFontSize": 25.5, "titleFontWeight": "bold", "titleLineHeight": 33,
        "titleAngle": -90, "titleX": -142, "titleY": 209, "titleAlign": "center", "titleBaseline": "alphabetic"}},
    "color": {"field": "s", "type": "nominal", "scale": {"domain": ["a","b","c","d","e","f","g"], "range": ["#14F0F0","#FF8000","#14148C","#8C148C","#128080","#E6C000","#66CC33"]}, "legend": null}
  }
},
{
  "width": 1022, "height": 409,
  "title": {"text": "White Sucker Spawning - Normal Year (2005)", "dx": 36},
  "data": {"name": "spawn", "format": {"parse": {"t": "date:'%Y-%m-%d'"}}},
  "transform": [{"fold": ["g","f","e","d","c","b","a"], "as": ["s","v"]}],
  "mark": {"type": "line", "strokeWidth": 2.3},
  "encoding": {
    "x": {"field": "t", "type": "temporal", "scale": {"domain": [{"year":2005,"month":1,"date":1},{"year":2005,"month":12,"date":31}]},
      "axis": {"title": null, "values": [{"year":2005,"month":1,"date":1},{"year":2005,"month":2,"date":1},{"year":2005,"month":3,"date":1},{"year":2005,"month":4,"date":1},{"year":2005,"month":5,"date":1},{"year":2005,"month":6,"date":1},{"year":2005,"month":7,"date":1},{"year":2005,"month":8,"date":1},{"year":2005,"month":9,"date":1},{"year":2005,"month":10,"date":1},{"year":2005,"month":11,"date":1},{"year":2005,"month":12,"date":1}],
        "labelExpr": "timeFormat(datum.value, '%b')", "labelOffset": 42, "tickSize": 8, "labelPadding": 17, "labelFlush": false, "labelOverlap": false, "labelBound": false}},
    "y": {"field": "v", "type": "quantitative", "scale": {"domain": [0, 35000], "nice": false},
      "axis": {"values": [0,2500,5000,7500,10000,12500,15000,17500,20000,22500,25000,27500,30000,32500,35000], "format": "d",
        "labelExpr": "datum.value % 5000 == 0 ? datum.label : ''",
        "tickSize": {"condition": {"test": "datum.value % 5000 != 0", "value": 6}, "value": 10}, "labelPadding": 12,
        "title": ["Habitat Availabilty", "(WUA in ft²/1,000ft)"], "titleFontSize": 25.5, "titleFontWeight": "bold", "titleLineHeight": 33,
        "titleAngle": -90, "titleX": -142, "titleY": 209, "titleAlign": "center", "titleBaseline": "alphabetic"}},
    "color": {"field": "s", "type": "nominal", "scale": {"domain": ["a","b","c","d","e","f","g"], "range": ["#14F0F0","#FF8000","#14148C","#8C148C","#128080","#E6C000","#66CC33"]},
      "legend": {"orient": "none", "legendX": 726, "legendY": 23, "title": null, "padding": 0,
        "labelFontSize": 23.2, "labelColor": "black", "labelFont": "Liberation Sans", "labelOffset": 28, "labelLimit": 400,
        "symbolType": "M-3,0H3", "symbolSize": 324, "symbolStrokeWidth": 2, "rowPadding": 6.4,
        "labelExpr": "datum.label == 'a' ? 'No Action' : datum.label == 'b' ? 'Comanche South' : datum.label == 'c' ? 'Pueblo Dam South' : datum.label == 'd' ? 'JUP North' : datum.label == 'e' ? 'Pueblo Dam North' : datum.label == 'f' ? 'River South' : 'Master Contract Only'"}}
  }
},
{
  "width": 1022, "height": 409,
  "title": {"text": "White Sucker Fry - Normal Year (2005)", "dx": 4},
  "data": {"name": "fry", "format": {"parse": {"t": "date:'%Y-%m-%d'"}}},
  "transform": [{"fold": ["g","f","e","d","c","b","a"], "as": ["s","v"]}],
  "mark": {"type": "line", "strokeWidth": 2.3},
  "encoding": {
    "x": {"field": "t", "type": "temporal", "scale": {"domain": [{"year":2005,"month":1,"date":1},{"year":2005,"month":12,"date":31}]},
      "axis": {"title": null, "values": [{"year":2005,"month":1,"date":1},{"year":2005,"month":2,"date":1},{"year":2005,"month":3,"date":1},{"year":2005,"month":4,"date":1},{"year":2005,"month":5,"date":1},{"year":2005,"month":6,"date":1},{"year":2005,"month":7,"date":1},{"year":2005,"month":8,"date":1},{"year":2005,"month":9,"date":1},{"year":2005,"month":10,"date":1},{"year":2005,"month":11,"date":1},{"year":2005,"month":12,"date":1}],
        "labelExpr": "timeFormat(datum.value, '%b')", "labelOffset": 42, "tickSize": 8, "labelPadding": 17, "labelFlush": false, "labelOverlap": false, "labelBound": false}},
    "y": {"field": "v", "type": "quantitative", "scale": {"domain": [0, 4000], "nice": false},
      "axis": {"values": [0,250,500,750,1000,1250,1500,1750,2000,2250,2500,2750,3000,3250,3500,3750,4000], "format": "d",
        "labelExpr": "datum.value % 500 == 0 ? datum.label : ''",
        "tickSize": {"condition": {"test": "datum.value % 500 != 0", "value": 6}, "value": 10}, "labelPadding": 12,
        "title": ["Habitat Availabilty", "(WUA in ft²/1,000ft)"], "titleFontSize": 25.5, "titleFontWeight": "bold", "titleLineHeight": 33,
        "titleAngle": -90, "titleX": -142, "titleY": 209, "titleAlign": "center", "titleBaseline": "alphabetic"}},
    "color": {"field": "s", "type": "nominal", "scale": {"domain": ["a","b","c","d","e","f","g"], "range": ["#14F0F0","#FF8000","#14148C","#8C148C","#128080","#E6C000","#66CC33"]}, "legend": null}
  }
}
]
}
